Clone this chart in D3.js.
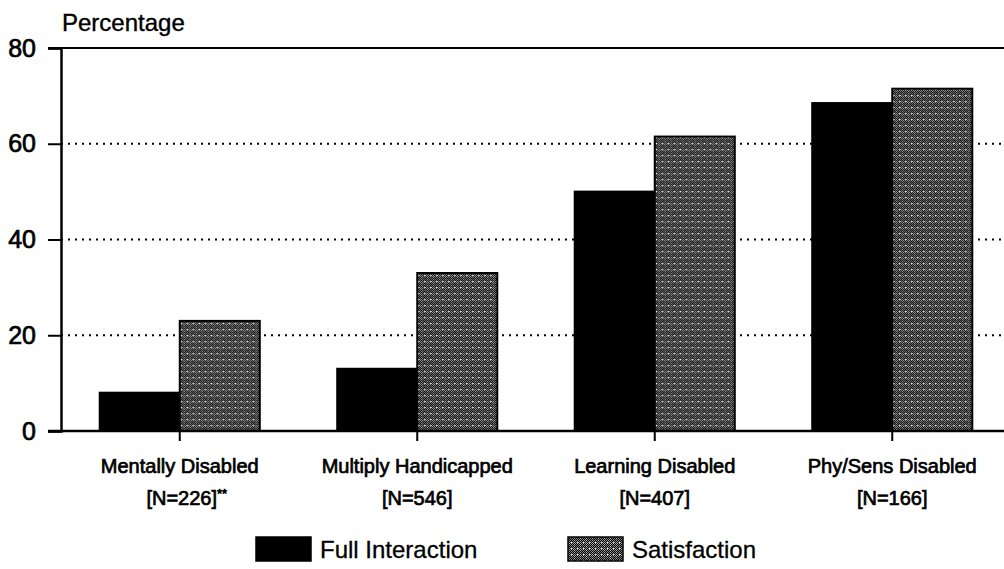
<!DOCTYPE html>
<html>
<head>
<meta charset="utf-8">
<script src="https://cdn.jsdelivr.net/npm/d3@7"></script>
<style>
  html, body { margin: 0; padding: 0; background: #fff; }
  svg { display: block; font-family: "Liberation Sans", Arial, Helvetica, sans-serif; }
</style>
</head>
<body>
<svg id="chart" width="1004" height="569"></svg>
<script>
// ---- data ----
const categories = ["Mentally Disabled", "Multiply Handicapped", "Learning Disabled", "Phy/Sens Disabled"];
const sampleSizes = ["[N=226]", "[N=546]", "[N=407]", "[N=166]"];
const sampleNotes = ["**", "", "", ""];
const seriesNames = ["Full Interaction", "Satisfaction"];
const fullInteraction = [8, 13, 50, 68.5];
const satisfaction = [23, 33, 61.5, 71.5];
const yTicks = [0, 20, 40, 60, 80];
const yTitle = "Percentage";

(function () {
const svg = d3.select("#chart");

// pattern for satisfaction (dithered gray)
const defs = svg.append("defs");
const pat = defs.append("pattern")
  .attr("id", "dither").attr("patternUnits", "userSpaceOnUse")
  .attr("width", 6).attr("height", 6);
pat.append("rect").attr("width", 6).attr("height", 6).attr("fill", "#fff");
[[0,0],[2,0],[4,0],[1,1],[3,1],[5,1],[0,2],[2,2],[4,2],[1,3],[3,3],[5,3],[0,4],[2,4],[4,4],[1,5],[5,5]].forEach(([px, py]) => {
  pat.append("rect").attr("x", px).attr("y", py).attr("width", 1.3).attr("height", 1.3).attr("fill", "#000");
});

const mLeft = 61, mRight = 1011, mTop = 48, mBottom = 431;

const y = d3.scaleLinear().domain([0, 80]).range([mBottom, mTop]);
const x0 = d3.scaleBand().domain(categories).range([mLeft, mRight])
  .paddingInner(0.326).paddingOuter(0.163);
const x1 = d3.scaleBand().domain(seriesNames).range([0, x0.bandwidth()]).padding(0);

// gridlines (dotted)
svg.append("g").selectAll("line")
  .data(yTicks.filter(d => d > 0 && d < 80))
  .join("line")
  .attr("x1", mLeft).attr("x2", 1004)
  .attr("y1", d => y(d)).attr("y2", d => y(d))
  .attr("stroke", "#000").attr("stroke-width", 2)
  .attr("stroke-dasharray", "2,5");

// top frame line
svg.append("line").attr("x1", 48).attr("x2", 1004)
  .attr("y1", y(80)).attr("y2", y(80))
  .attr("stroke", "#000").attr("stroke-width", 2);

// bars
const rows = categories.map((c, i) => ({ cat: c, vals: [fullInteraction[i], satisfaction[i]] }));
const groups = svg.append("g").selectAll("g")
  .data(rows).join("g")
  .attr("transform", d => `translate(${x0(d.cat)},0)`);
groups.selectAll("rect")
  .data(d => d.vals.map((v, j) => ({ key: seriesNames[j], v })))
  .join("rect")
  .attr("x", d => x1(d.key))
  .attr("y", d => y(d.v))
  .attr("width", x1.bandwidth())
  .attr("height", d => y(0) - y(d.v))
  .attr("fill", d => d.key === "Full Interaction" ? "#000" : "url(#dither)")
  .attr("stroke", "#000").attr("stroke-width", 2);

// y axis
const yAxis = d3.axisLeft(y).tickValues(yTicks).tickSize(13).tickPadding(12);
const gy = svg.append("g").attr("transform", `translate(${mLeft},0)`).call(yAxis);
gy.select(".domain").attr("stroke-width", 2.5);
gy.selectAll(".tick line").attr("stroke-width", 2);
gy.selectAll(".tick text")
  .attr("font-size", 25).attr("font-family", "Liberation Sans, Arial, sans-serif")
  .attr("fill", "#000").attr("stroke", "#000").attr("stroke-width", 0.7);

// x axis
const xAxis = d3.axisBottom(x0).tickSize(10).tickSizeOuter(0).tickFormat("");
const gx = svg.append("g").attr("transform", `translate(0,${mBottom})`).call(xAxis);
gx.select(".domain").remove();
gx.selectAll(".tick line").attr("stroke-width", 2);
svg.append("line").attr("x1", 48).attr("x2", 1004)
  .attr("y1", mBottom).attr("y2", mBottom)
  .attr("stroke", "#000").attr("stroke-width", 2.5);

// category labels
const labels = svg.append("g").attr("font-size", 20).attr("fill", "#000")
  .attr("stroke", "#000").attr("stroke-width", 0.7).attr("text-anchor", "middle");
labels.selectAll("text.cat").data(categories).join("text").attr("class", "cat")
  .attr("x", d => x0(d) + x0.bandwidth() / 2).attr("y", 473)
  .text(d => d);
const nt = labels.selectAll("text.n").data(categories).join("text").attr("class", "n")
  .attr("x", (d, i) => x0(d) + x0.bandwidth() / 2 + (sampleNotes[i] ? 7 : 0)).attr("y", 505);
nt.append("tspan").text((d, i) => sampleSizes[i]);
nt.append("tspan").attr("font-size", 13).attr("dy", -7)
  .text((d, i) => sampleNotes[i]);

// y title
svg.append("text").attr("x", 62).attr("y", 31)
  .attr("font-size", 24).attr("fill", "#000")
  .attr("stroke", "#000").attr("stroke-width", 0.4).text(yTitle);

// legend
const legendX = [256, 568];
const lg = svg.append("g").selectAll("g").data(seriesNames).join("g")
  .attr("transform", (d, i) => `translate(${legendX[i]},537)`);
lg.append("rect").attr("width", 55).attr("height", 24)
  .attr("fill", (d, i) => i === 0 ? "#000" : "url(#dither)")
  .attr("stroke", "#000").attr("stroke-width", 1.5);
lg.append("text").attr("x", 64).attr("y", 21)
  .attr("font-size", 24).attr("fill", "#000")
  .attr("stroke", "#000").attr("stroke-width", 0.3).text(d => d);
})();
</script>
</body>
</html>
